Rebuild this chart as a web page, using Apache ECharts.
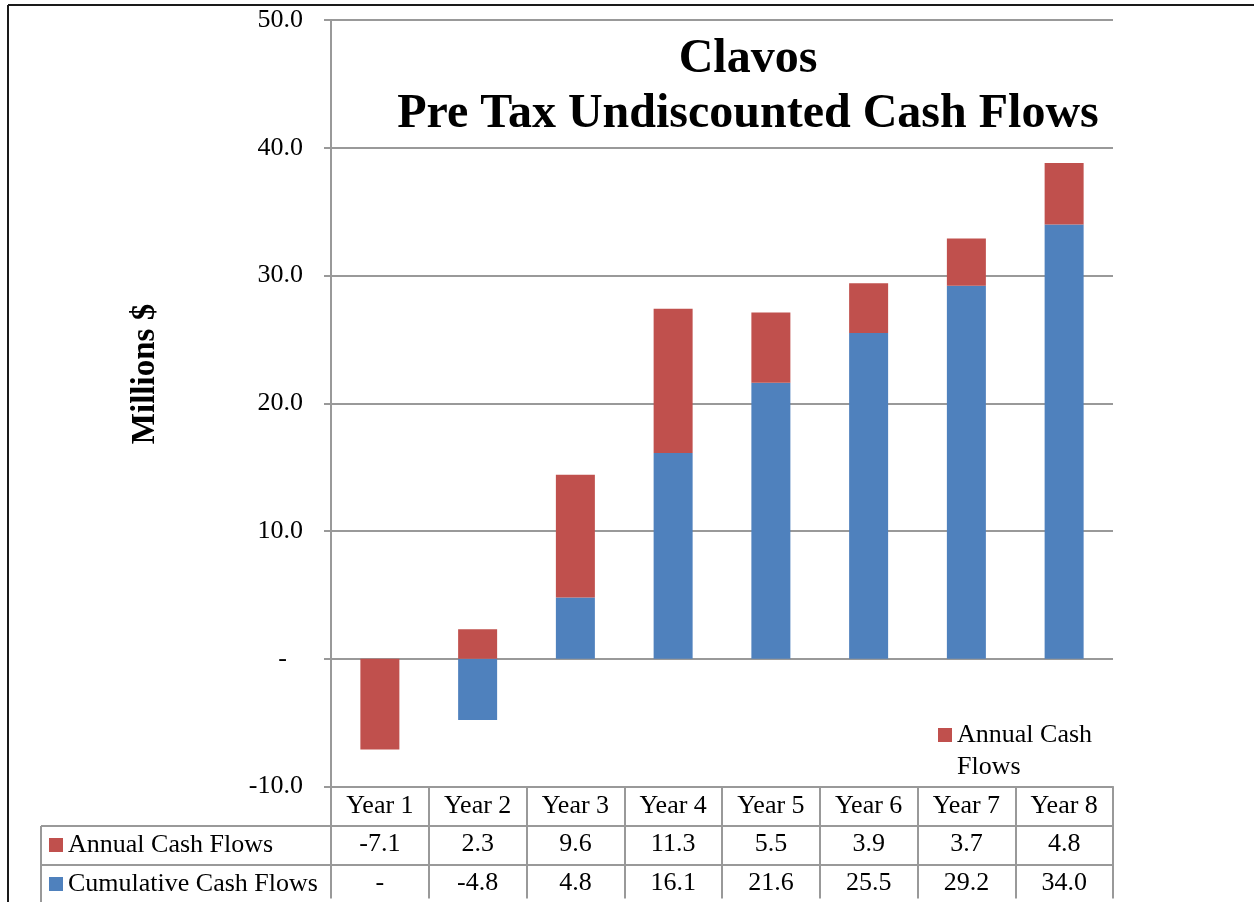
<!DOCTYPE html>
<html>
<head>
<meta charset="utf-8">
<script src="https://cdn.jsdelivr.net/npm/echarts@6/dist/echarts.min.js"></script>
<style>
  html, body { margin: 0; padding: 0; background: #fff; }
  #chart { width: 1254px; height: 902px; }
</style>
</head>
<body>
<div id="chart"></div>
<script>
// data
const years = ['Year 1', 'Year 2', 'Year 3', 'Year 4', 'Year 5', 'Year 6', 'Year 7', 'Year 8'];
const annualCashFlows = [-7.1, 2.3, 9.6, 11.3, 5.5, 3.9, 3.7, 4.8];
const cumulativeCashFlows = [0, -4.8, 4.8, 16.1, 21.6, 25.5, 29.2, 34.0];
const yTicks = { min: -10, max: 50, step: 10 };

const RED = '#C0504D';
const BLUE = '#4F81BD';
const LINE = '#999999';
const FONT = '"Liberation Serif", "Times New Roman", serif';
const FS = 26;

function fmt(v) {
  return v === 0 ? '-' : v.toFixed(1);
}

const chart = echarts.init(document.getElementById('chart'));

chart.setOption({
  animation: false,
  textStyle: { fontFamily: FONT, color: '#000' },
  title: {
    text: 'Clavos\nPre Tax Undiscounted Cash Flows',
    left: 743,
    top: 27,
    textAlign: 'center',
    textStyle: {
      fontFamily: FONT,
      fontSize: 48,
      fontWeight: 'bold',
      color: '#000',
      lineHeight: 55,
    },
  },
  legend: {
    data: ['Annual Cash Flows'],
    left: 938,
    top: 719,
    padding: 0,
    // square sits beside the first line of the two-line label
    icon: 'path://M0,0H14V14H0Z M0,46L0,46',
    itemWidth: 14,
    itemHeight: 46,
    formatter: () => 'Annual Cash\nFlows',
    textStyle: { fontFamily: FONT, fontSize: FS, color: '#000', lineHeight: 32 },
  },
  grid: {
    left: 331,
    right: 141,
    top: 20,
    bottom: 112,
  },
  xAxis: {
    type: 'category',
    data: years,
    axisLine: { onZero: false, lineStyle: { color: LINE, width: 2 } },
    axisTick: {
      show: true,
      alignWithLabel: false,
      interval: 0,
      length: 112,
      lineStyle: { color: LINE, width: 2 },
    },
    axisLabel: {
      interval: 0,
      margin: 0,
      fontFamily: FONT,
      fontSize: FS,
      color: '#000',
      lineHeight: 38.5,
      formatter: (val, i) => val + '\n' + fmt(annualCashFlows[i]) + '\n' + fmt(cumulativeCashFlows[i]),
    },
  },
  yAxis: {
    type: 'value',
    min: yTicks.min,
    max: yTicks.max,
    interval: yTicks.step,
    axisLine: { show: true, lineStyle: { color: LINE, width: 2 } },
    axisTick: { show: true, length: 7, lineStyle: { color: LINE, width: 2 } },
    splitLine: { lineStyle: { color: LINE, width: 2 } },
    axisLabel: {
      margin: 28,
      fontFamily: FONT,
      fontSize: FS,
      color: '#000',
      formatter: (v) => (v === 0 ? '{dash|-}' : v.toFixed(1)),
      rich: {
        dash: { fontFamily: FONT, fontSize: FS, color: '#000', padding: [0, 16, 0, 0] },
      },
    },
  },
  series: [
    {
      name: 'Cumulative Cash Flows',
      type: 'bar',
      stack: 'cash',
      barWidth: 39,
      itemStyle: { color: BLUE },
      data: cumulativeCashFlows,
    },
    {
      name: 'Annual Cash Flows',
      type: 'bar',
      stack: 'cash',
      barWidth: 39,
      itemStyle: { color: RED },
      data: annualCashFlows,
    },
  ],
  graphic: [
    // outer frame (top and left edges)
    { type: 'line', shape: { x1: 8, y1: 5, x2: 1254, y2: 5 }, style: { stroke: '#1a1a1a', lineWidth: 2 } },
    { type: 'line', shape: { x1: 8, y1: 5, x2: 8, y2: 902 }, style: { stroke: '#1a1a1a', lineWidth: 2 } },
    // y axis title
    {
      type: 'text',
      x: 145,
      y: 374,
      rotation: Math.PI / 2,
      style: {
        text: 'Millions $',
        fontFamily: FONT,
        fontSize: 33,
        fontWeight: 'bold',
        fill: '#000',
        align: 'center',
        verticalAlign: 'middle',
      },
    },
    // data table rows
    { type: 'line', shape: { x1: 41, y1: 826, x2: 1113, y2: 826 }, style: { stroke: LINE, lineWidth: 2 } },
    { type: 'line', shape: { x1: 41, y1: 865, x2: 1113, y2: 865 }, style: { stroke: LINE, lineWidth: 2 } },
    { type: 'line', shape: { x1: 41, y1: 826, x2: 41, y2: 902 }, style: { stroke: LINE, lineWidth: 2 } },
    { type: 'rect', shape: { x: 49, y: 838, width: 14, height: 14 }, style: { fill: RED } },
    {
      type: 'text', x: 68, y: 845,
      style: { text: 'Annual Cash Flows', fontFamily: FONT, fontSize: FS, fill: '#000', verticalAlign: 'middle' },
    },
    { type: 'rect', shape: { x: 49, y: 877, width: 14, height: 14 }, style: { fill: BLUE } },
    {
      type: 'text', x: 68, y: 884,
      style: { text: 'Cumulative Cash Flows', fontFamily: FONT, fontSize: FS, fill: '#000', verticalAlign: 'middle' },
    },
  ],
});
</script>
</body>
</html>
